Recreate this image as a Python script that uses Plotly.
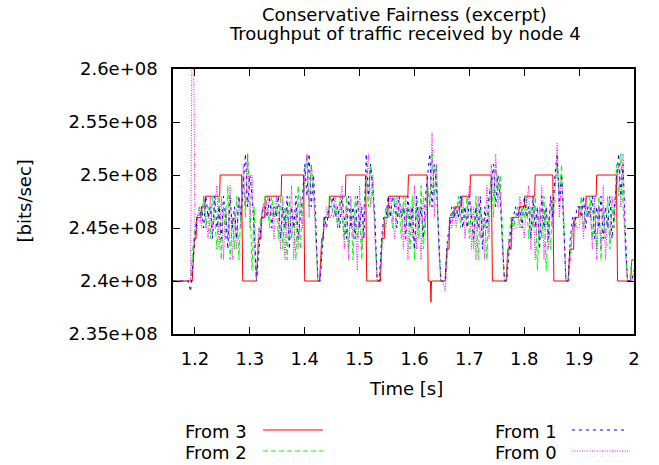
import numpy as np
import plotly.graph_objects as go

# ---------------- data (throughput in Mbit/s) ----------------
# "From 3": step-like series, explicit (time, value) pairs
from3_t = [1.160, 1.195, 1.199, 1.202, 1.203, 1.211, 1.212, 1.218, 1.219, 1.245, 1.246, 1.285, 1.287, 1.312,
           1.316, 1.320, 1.321, 1.327, 1.328, 1.357, 1.358, 1.398, 1.400, 1.427,
           1.431, 1.434, 1.435, 1.444, 1.445, 1.474, 1.475, 1.511, 1.513, 1.538,
           1.541, 1.545, 1.546, 1.551, 1.553, 1.588, 1.589, 1.623, 1.625, 1.629, 1.630, 1.631, 1.656,
           1.659, 1.663, 1.664, 1.672, 1.673, 1.685, 1.686, 1.701, 1.702, 1.740, 1.742, 1.767,
           1.770, 1.776, 1.777, 1.790, 1.791, 1.800, 1.801, 1.819, 1.820, 1.852, 1.854, 1.880,
           1.883, 1.890, 1.891, 1.899, 1.900, 1.912, 1.913, 1.931, 1.932, 1.968, 1.970, 1.994, 1.996, 2.000]
from3_v = [240, 240, 244, 244, 246, 246, 247, 247, 248, 248, 250, 250, 240, 240,
           244, 244, 246, 246, 248, 248, 250, 250, 240, 240,
           244, 244, 246, 246, 248, 248, 250, 250, 240, 240,
           244, 244, 246, 246, 248, 248, 250, 250, 240, 240, 238, 240, 240,
           243, 243, 246, 246, 247, 247, 248, 248, 250, 250, 240, 240,
           243, 243, 246, 246, 247, 247, 248, 248, 250, 250, 240, 240,
           243, 243, 246, 246, 247, 247, 248, 248, 250, 250, 240, 240, 242, 242]

# the other senders, sampled every 4 ms from t = 1.16 s
sample_start = 1.16
sample_step = 0.004

from2_v = [240, 240, 240, 240, 240, 240, 240, 240, 240,
           243, 245, 246, 247,
           246, 248, 245, 247, 244, 248, 246, 243, 248, 242, 247, 244, 249, 242, 246, 243, 248, 242, 247,
           250, 246, 252, 248, 241, 247,
           240,
           244, 246, 247, 248,
           247, 245, 248, 246, 247, 244, 248, 243, 247, 242, 248, 244, 246, 242, 249, 243, 247,
           249, 252, 247, 251, 248, 245,
           240, 240,
           244, 246, 246, 247,
           248, 246, 247, 245, 248, 246, 244, 248, 243, 247, 242, 248, 244, 246, 242, 247,
           250, 247, 251, 248, 245,
           240, 240,
           243, 245, 247, 246,
           247, 245, 248, 246, 247, 244, 248, 245, 247, 243, 248, 242, 247, 244, 249, 243, 246,
           249, 247, 252, 248, 251, 244,
           240, 240, 240,
           243, 245, 246, 247,
           246, 248, 245, 247, 246, 248, 244, 247, 243, 248, 242, 247, 244, 246, 242, 248,
           250, 246, 251, 248, 250, 245,
           240, 240,
           244, 246, 245, 246,
           247, 245, 247, 246, 248, 244, 247, 245, 248, 241, 247, 244, 248, 241, 246, 243, 248,
           249, 251, 248, 251, 246,
           240, 240,
           243, 245, 246, 246,
           246, 248, 245, 247, 246, 248, 244, 247, 243, 248, 242, 247, 244, 248, 243, 247, 245,
           251, 248, 252, 247, 244,
           240, 240,
           242, 242]

from1_v = [240, 240, 240, 240, 240, 240, 240, 240, 239,
           242, 244, 246, 246,
           247, 245, 248, 246, 247, 244, 248, 245, 247, 244, 248, 246, 243, 248, 245, 247, 244, 248, 246,
           249, 252, 247, 250, 248, 245,
           240,
           243, 245, 247, 247,
           246, 248, 245, 247, 246, 248, 244, 247, 245, 248, 243, 247, 245, 248, 244, 246, 248,
           251, 248, 252, 247, 250, 246,
           240, 240,
           243, 246, 245, 247,
           247, 248, 246, 247, 245, 248, 246, 244, 248, 245, 247, 244, 248, 245, 247, 244,
           252, 248, 251, 249, 246,
           240, 240,
           244, 246, 246, 248,
           246, 248, 247, 245, 248, 246, 247, 244, 248, 245, 247, 243, 248, 245, 247, 244, 248,
           250, 252, 247, 251, 249, 245,
           240, 240, 240,
           244, 245, 247, 246,
           247, 246, 248, 245, 247, 245, 248, 246, 244, 247, 245, 248, 243, 247, 245, 248,
           249, 251, 247, 250, 248, 244,
           240, 240,
           243, 245, 246, 247,
           246, 247, 245, 248, 246, 247, 244, 248, 245, 247, 243, 248, 245, 247, 244, 248, 246,
           250, 252, 247, 250, 245,
           240, 240,
           244, 246, 245, 247,
           247, 246, 248, 245, 247, 246, 248, 244, 247, 245, 248, 244, 247, 245, 248, 244, 247,
           250, 252, 248, 251, 245,
           240, 240,
           240, 241]

from0_v = [240, 240, 240, 240, 240, 240, 240, 240, 240,
           275, 244, 245, 247,
           245, 248, 246, 244, 248, 245, 247, 249, 243, 248, 242, 247, 244, 249, 242, 246, 243, 248, 245,
           251, 247, 252, 245, 250, 243,
           240,
           245, 244, 247, 246,
           248, 246, 247, 244, 248, 246, 243, 248, 242, 247, 244, 249, 242, 247, 243, 248, 245,
           250, 252, 246, 251, 249, 244,
           240, 240,
           244, 245, 247, 246,
           246, 247, 248, 245, 247, 249, 243, 247, 242, 248, 244, 246, 241, 249, 243, 246,
           249, 252, 247, 250, 244,
           240, 240,
           243, 246, 245, 247,
           248, 246, 244, 248, 246, 247, 243, 248, 242, 247, 244, 249, 243, 247, 242, 248, 245,
           249, 247, 254, 246, 251, 243,
           240, 240, 239,
           242, 246, 245, 247,
           245, 247, 246, 248, 244, 247, 249, 243, 247, 242, 248, 244, 246, 242, 249, 244,
           251, 248, 252, 247, 249, 243,
           240, 240,
           244, 243, 246, 245,
           245, 248, 246, 244, 247, 249, 243, 248, 242, 247, 244, 249, 242, 247, 243, 248, 245,
           248, 253, 246, 250, 244,
           240, 240,
           242, 245, 246, 245,
           245, 247, 244, 248, 246, 247, 243, 248, 242, 247, 243, 249, 242, 246, 244, 248, 246,
           249, 251, 247, 252, 243,
           240, 240,
           240, 241]

assert len(from2_v) == len(from1_v) == len(from0_v) == 211, (len(from2_v), len(from1_v), len(from0_v))

y_ticks = [2.35e8, 2.40e8, 2.45e8, 2.50e8, 2.55e8, 2.60e8]
y_tick_text = ["2.35e+08", "2.4e+08", "2.45e+08", "2.5e+08", "2.55e+08", "2.6e+08"]
x_ticks = [1.2, 1.3, 1.4, 1.5, 1.6, 1.7, 1.8, 1.9, 2.0]
x_tick_text = ["1.2", "1.3", "1.4", "1.5", "1.6", "1.7", "1.8", "1.9", "2"]

# ---------------- figure ----------------
MBIT = 1e6
def sample_times(n):
    return [round(sample_start + sample_step * k, 3) for k in range(n)]

series = [
    ("From 3", from3_t, from3_v, "#ff0000", "solid"),
    ("From 2", sample_times(len(from2_v)), from2_v, "#00ff00", "5px,3px"),
    ("From 1", sample_times(len(from1_v)), from1_v, "#0000ff", "3px,4px"),
    ("From 0", sample_times(len(from0_v)), from0_v, "#ff00ff", "1px,1.5px"),
]

fig = go.Figure()
for name, t, v, col, dash in series:
    fig.add_trace(go.Scatter(x=t, y=[val * MBIT for val in v], mode="lines", name=name,
                             line=dict(color=col, width=1, dash=dash), showlegend=False))

FONT = "DejaVu Sans"
fs = 18

# plot area geometry (pixels) used to place text outside the axes
L, R, T, B = 173, 634, 69, 334
W, H = R - L, B - T
def px(x):
    return (x - L) / W
def py(y):
    return (B - y) / H

ann = []
ann.append(dict(text="Conservative Fairness (excerpt)", x=px(404.5), y=py(14), xref="paper", yref="paper",
                showarrow=False, xanchor="center", yanchor="middle", font=dict(family=FONT, size=fs, color="black")))
ann.append(dict(text="Troughput of traffic received by node 4", x=px(404.5), y=py(33), xref="paper", yref="paper",
                showarrow=False, xanchor="center", yanchor="middle", font=dict(family=FONT, size=fs, color="black")))
ann.append(dict(text="Time [s]", x=px(406), y=py(388), xref="paper", yref="paper",
                showarrow=False, xanchor="center", yanchor="middle", font=dict(family=FONT, size=fs, color="black")))
ann.append(dict(text="[bits/sec]", x=px(24), y=0.5, xref="paper", yref="paper", textangle=-90,
                showarrow=False, xanchor="center", yanchor="middle", font=dict(family=FONT, size=fs, color="black")))

legend_items = [
    ("From 3", 183, 431, 263, 323, "#ff0000", "solid"),
    ("From 2", 183, 452, 263, 323, "#00ff00", "5px,3px"),
    ("From 1", 493, 431, 572, 628, "#0000ff", "3px,4px"),
    ("From 0", 493, 452, 572, 630, "#ff00ff", "1px,1.5px"),
]
shapes = []
for name, tx, ty, lx0, lx1, col, dash in legend_items:
    ann.append(dict(text=name, x=px(tx), y=py(ty), xref="paper", yref="paper", showarrow=False,
                    xanchor="left", yanchor="middle", font=dict(family=FONT, size=fs, color="black")))
    shapes.append(dict(type="line", xref="paper", yref="paper", x0=px(lx0), x1=px(lx1),
                       y0=py(ty - 1), y1=py(ty - 1), line=dict(color=col, width=1, dash=dash)))

fig.update_layout(
    width=659, height=465,
    margin=dict(l=L, r=659 - R, t=T, b=465 - B, pad=0),
    paper_bgcolor="white", plot_bgcolor="white",
    annotations=ann, shapes=shapes,
    font=dict(family=FONT, size=fs, color="black"),
)
fig.update_xaxes(range=[1.16, 2.0], tickvals=x_ticks, ticktext=x_tick_text, ticks="inside", ticklen=7,
                 tickwidth=1, tickcolor="black", showline=True, linecolor="black", linewidth=1.5,
                 mirror="ticks", showgrid=False, zeroline=False, ticklabelstandoff=8,
                 tickfont=dict(family=FONT, size=fs, color="black"))
fig.update_yaxes(range=[2.35e8, 2.6e8], tickvals=y_ticks, ticktext=y_tick_text, ticks="inside", ticklen=7,
                 tickwidth=1, tickcolor="black", showline=True, linecolor="black", linewidth=1.5,
                 mirror="ticks", showgrid=False, zeroline=False, ticklabelstandoff=10,
                 tickfont=dict(family=FONT, size=fs, color="black"))

fig.write_html("out.html")
